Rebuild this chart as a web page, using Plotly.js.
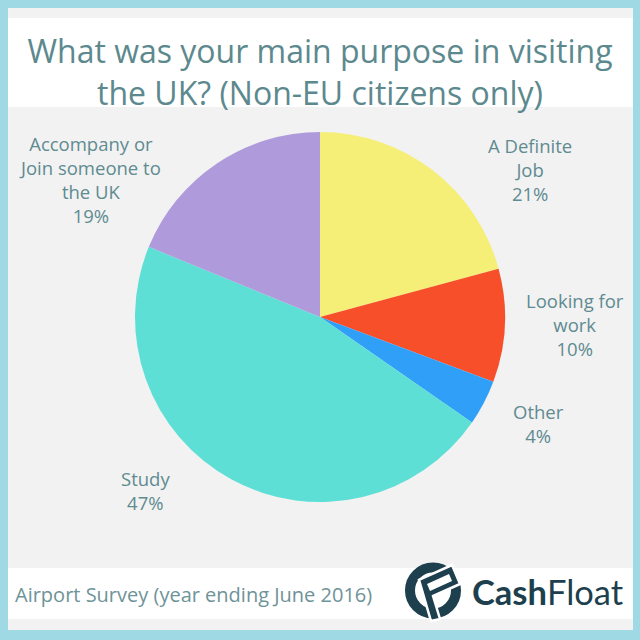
<!DOCTYPE html>
<html>
<head>
<meta charset="utf-8">
<script src="https://cdn.plot.ly/plotly-3.0.1.min.js"></script>
<style>html,body{margin:0;padding:0;background:#9ED9E4;}#chart{width:640px;height:640px;}</style>
</head>
<body>
<div id="chart"></div>
<script>
// ---- data ----
var categories = ["A Definite Job", "Looking for work", "Other", "Study", "Accompany or Join someone to the UK"];
var labelLines = ["A Definite<br>Job", "Looking for<br>work", "Other", "Study", "Accompany or<br>Join someone to<br>the UK"];
var values = [21, 10, 4, 47, 19];
var colors = ["#F5EF78", "#F84F2B", "#309FF8", "#5EDFD6", "#AF9ADB"];
var titleText = "What was your main purpose in visiting<br>the UK? (Non-EU citizens only)";
var sourceText = "Airport Survey (year ending June 2016)";

// ---- helpers (pixel -> paper) ----
var W = 640, H = 640;
function px(x){ return x / W; }
function py(y){ return 1 - y / H; }
function path(pts){
  return pts.map(function(p, i){ return (i ? "L" : "M") + px(p[0]).toFixed(4) + "," + py(p[1]).toFixed(4); }).join(" ") + " Z";
}

var labelColor = "#5F8B91";
// label anchor positions (pixels) for each slice's outside text
var labelPos = [[530, 169], [575, 324], [538, 423], [145, 490], [90, 179]];

var annotations = categories.map(function(c, i){
  return {
    xref: "paper", yref: "paper",
    x: px(labelPos[i][0]), y: py(labelPos[i][1]),
    xanchor: "center", yanchor: "middle",
    text: labelLines[i] + "<br>" + values[i] + "%",
    showarrow: false, align: "center",
    font: {family: "Open Sans", size: 18.5, color: labelColor}
  };
});
annotations.push({
  xref: "paper", yref: "paper", x: px(13), y: py(594), xanchor: "left", yanchor: "middle",
  text: sourceText, showarrow: false,
  font: {family: "Open Sans", size: 20, color: "#6E9398"}
});
annotations.push({
  xref: "paper", yref: "paper", x: px(470), y: py(591), xanchor: "left", yanchor: "middle",
  text: "<b>Cash</b>Float", showarrow: false,
  font: {family: "Lato", size: 34.5, color: "#1D3F4E"}
});

var shapes = [
  {type: "rect", xref: "paper", yref: "paper", x0: px(8), x1: px(633), y0: py(630), y1: py(8), fillcolor: "#F2F2F2", line: {width: 0}, layer: "below"},
  {type: "rect", xref: "paper", yref: "paper", x0: px(8), x1: px(633), y0: py(107), y1: py(18), fillcolor: "#FFFFFF", line: {width: 0}, layer: "below"},
  {type: "rect", xref: "paper", yref: "paper", x0: px(8), x1: px(633), y0: py(619), y1: py(568), fillcolor: "#FFFFFF", line: {width: 0}, layer: "below"},
  // logo ring
  {type: "circle", xref: "paper", yref: "paper", x0: px(410), x1: px(456), y0: py(613.5), y1: py(567.5), fillcolor: "rgba(0,0,0,0)", line: {width: 10, color: "#1D3F4E"}, layer: "above"},
  // logo F
  {type: "path", xref: "paper", yref: "paper", path: path([[419,580],[452,565],[460,584],[433,596],[440,619],[431,621]]), fillcolor: "#1D3F4E", line: {width: 2.5, color: "#FFFFFF"}, layer: "above"},
  {type: "path", xref: "paper", yref: "paper", path: path([[427,584],[449,574],[452,581],[430,591]]), fillcolor: "#FFFFFF", line: {width: 0}, layer: "above"}
];

var trace = {
  type: "pie",
  labels: categories,
  values: values,
  sort: false,
  direction: "clockwise",
  rotation: 0,
  textinfo: "none",
  hoverinfo: "label+percent",
  marker: {colors: colors, line: {width: 0}},
  domain: {x: [px(135), px(505)], y: [py(502), py(132)]},
  showlegend: false
};

var layout = {
  width: 640, height: 640,
  margin: {l: 0, r: 0, t: 0, b: 0},
  paper_bgcolor: "#9ED9E4",
  title: {
    text: titleText, x: 0.5, xanchor: "center", y: py(63), yanchor: "middle", yref: "paper",
    font: {family: "Open Sans", size: 32, color: "#5C898E"}
  },
  annotations: annotations,
  shapes: shapes
};

Plotly.newPlot("chart", [trace], layout, {displayModeBar: false, staticPlot: true});
</script>
</body>
</html>
